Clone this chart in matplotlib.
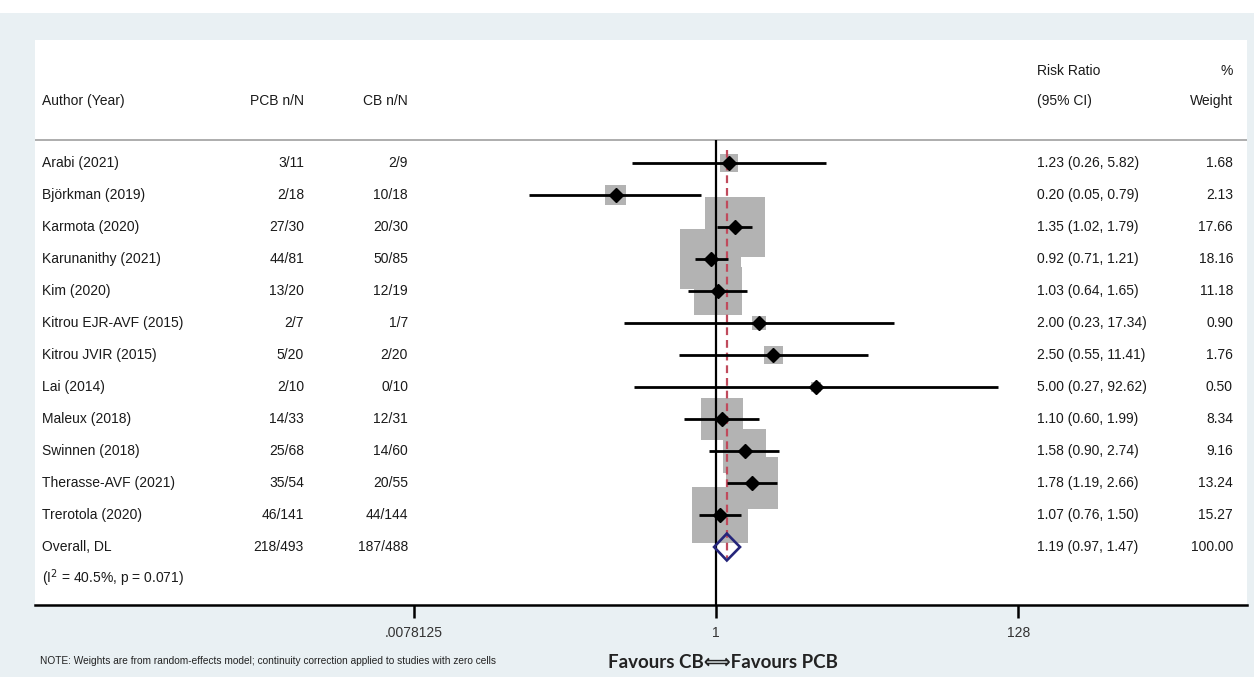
import numpy as np
import matplotlib.pyplot as plt
from matplotlib.patches import Polygon, Rectangle

plt.rcParams['font.family'] = ['Liberation Sans', 'DejaVu Sans']

studies = ['Arabi (2021)', 'Björkman (2019)', 'Karmota (2020)', 'Karunanithy (2021)',
           'Kim (2020)', 'Kitrou EJR-AVF (2015)', 'Kitrou JVIR (2015)', 'Lai (2014)',
           'Maleux (2018)', 'Swinnen (2018)', 'Therasse-AVF (2021)', 'Trerotola (2020)']
pcb = ['3/11', '2/18', '27/30', '44/81', '13/20', '2/7', '5/20', '2/10',
       '14/33', '25/68', '35/54', '46/141']
cb = ['2/9', '10/18', '20/30', '50/85', '12/19', '1/7', '2/20', '0/10',
      '12/31', '14/60', '20/55', '44/144']
rr = [1.23, 0.20, 1.35, 0.92, 1.03, 2.00, 2.50, 5.00, 1.10, 1.58, 1.78, 1.07]
lo = [0.26, 0.05, 1.02, 0.71, 0.64, 0.23, 0.55, 0.27, 0.60, 0.90, 1.19, 0.76]
hi = [5.82, 0.79, 1.79, 1.21, 1.65, 17.34, 11.41, 92.62, 1.99, 2.74, 2.66, 1.50]
weight = [1.68, 2.13, 17.66, 18.16, 11.18, 0.90, 1.76, 0.50, 8.34, 9.16, 13.24, 15.27]

overall_label = 'Overall, DL'
overall_pcb = '218/493'
overall_cb = '187/488'
overall_rr, overall_lo, overall_hi = 1.19, 0.97, 1.47
overall_weight = 100.00
het_text = '(I$^2$ = 40.5%, p = 0.071)'

xticks = [2.0 ** -7, 1, 2.0 ** 7]
xticklabels = ['.0078125', '1', '128']

W, H = 1254, 677
fig = plt.figure(figsize=(W / 100, H / 100), dpi=100, facecolor='#e9f0f3')
fig.patches.append(Rectangle((0, 1 - 13 / H), 1, 13 / H, transform=fig.transFigure,
                             facecolor='white', edgecolor='none', zorder=-1))

# plotting panel (white), in pixel terms: x 35..1247, y 40..605
px_l, px_r, px_t, px_b = 35, 1247, 40, 605
ax = fig.add_axes([px_l / W, (H - px_b) / H, (px_r - px_l) / W, (px_b - px_t) / H])
ax.set_facecolor('white')

# log2 x scale: 1 at x=716 px, 43.2 px per doubling
ppu = 43.2
x_one = 716
ax.set_xscale('log', base=2)
ax.set_xlim(2 ** ((px_l - x_one) / ppu), 2 ** ((px_r - x_one) / ppu))

# rows: first study at y=163 px, 32 px apart
row0, rstep = 163, 32
ax.set_ylim((px_b - row0) / rstep, (px_t - row0) / rstep)


def fx(px):
    return (px - px_l) / (px_r - px_l)


def fy(px):
    return (px - row0) / rstep


trans = ax.get_yaxis_transform()
fs = 10
tc = '#1a1a1a'

# header
ax.text(fx(42), fy(101), 'Author (Year)', transform=trans, fontsize=fs, color=tc, va='center')
ax.text(fx(304), fy(101), 'PCB n/N', transform=trans, fontsize=fs, color=tc, va='center', ha='right')
ax.text(fx(408), fy(101), 'CB n/N', transform=trans, fontsize=fs, color=tc, va='center', ha='right')
ax.text(fx(1037), fy(71), 'Risk Ratio', transform=trans, fontsize=fs, color=tc, va='center')
ax.text(fx(1037), fy(101), '(95% CI)', transform=trans, fontsize=fs, color=tc, va='center')
ax.text(fx(1233), fy(71), '%', transform=trans, fontsize=fs, color=tc, va='center', ha='right')
ax.text(fx(1233), fy(101), 'Weight', transform=trans, fontsize=fs, color=tc, va='center', ha='right')
ax.axhline(fy(140), color='#a0a0a0', lw=1.2)

# study rows
rows = np.arange(len(studies))
for i in rows:
    ax.text(fx(42), i, studies[i], transform=trans, fontsize=fs, color=tc, va='center')
    ax.text(fx(304), i, pcb[i], transform=trans, fontsize=fs, color=tc, va='center', ha='right')
    ax.text(fx(408), i, cb[i], transform=trans, fontsize=fs, color=tc, va='center', ha='right')
    ax.text(fx(1037), i, f'{rr[i]:.2f} ({lo[i]:.2f}, {hi[i]:.2f})', transform=trans,
            fontsize=fs, color=tc, va='center')
    ax.text(fx(1233), i, f'{weight[i]:.2f}', transform=trans, fontsize=fs, color=tc,
            va='center', ha='right')

k = len(studies)
ax.text(fx(42), k, overall_label, transform=trans, fontsize=fs, color=tc, va='center')
ax.text(fx(304), k, overall_pcb, transform=trans, fontsize=fs, color=tc, va='center', ha='right')
ax.text(fx(408), k, overall_cb, transform=trans, fontsize=fs, color=tc, va='center', ha='right')
ax.text(fx(1037), k, f'{overall_rr:.2f} ({overall_lo:.2f}, {overall_hi:.2f})', transform=trans,
        fontsize=fs, color=tc, va='center')
ax.text(fx(1233), k, f'{overall_weight:.2f}', transform=trans, fontsize=fs, color=tc,
        va='center', ha='right')
ax.text(fx(42), fy(578), het_text, transform=trans, fontsize=fs, color=tc, va='center')

# weight boxes (area proportional to weight)
ax.scatter(rr, rows, s=np.array(weight) * 106, marker='s', color='#b3b3b3',
           edgecolors='none', zorder=1)

# reference lines
ax.vlines(1, fy(140), ax.get_ylim()[0], color='black', lw=1.6, zorder=2)
ax.vlines(overall_rr, fy(150), fy(558), color='#c04a5c', lw=1.6,
          linestyles=(0, (3.5, 2.2)), zorder=2)

# confidence intervals and point estimates
ax.hlines(rows, lo, hi, color='black', lw=2.0, zorder=3)
ax.plot(rr, rows, 'D', color='black', ms=7, zorder=4)

# pooled estimate diamond
hh = 0.42
ax.add_patch(Polygon([(overall_lo, k), (overall_rr, k - hh), (overall_hi, k), (overall_rr, k + hh)],
                     closed=True, fill=False, edgecolor='#25257a', lw=1.9, zorder=5))

# axes styling
for s in ['top', 'left', 'right']:
    ax.spines[s].set_visible(False)
ax.spines['bottom'].set_linewidth(1.8)
ax.set_yticks([])
ax.set_xticks(xticks)
ax.set_xticklabels(xticklabels)
ax.xaxis.set_minor_locator(plt.NullLocator())
ax.tick_params(axis='x', length=9, width=1.8, pad=6, labelsize=10, labelcolor='#333333')

fig.text(40 / W, 1 - 661 / H,
         'NOTE: Weights are from random-effects model; continuity correction applied to studies with zero cells',
         fontsize=7.3, color='#222222', va='center')
fig.text(723 / W, 1 - 662 / H, 'Favours CB\u27faFavours PCB', fontsize=13.5, fontweight='bold',
         family=['Lato', 'DejaVu Sans'], color='#222222', ha='center', va='center')

fig.savefig('out.png', dpi=100, facecolor=fig.get_facecolor())
